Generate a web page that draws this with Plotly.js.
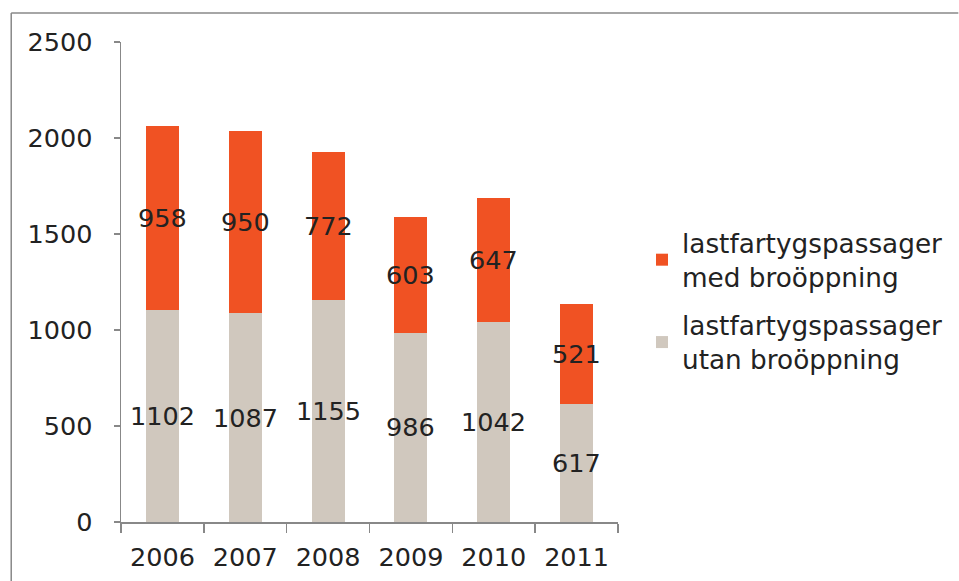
<!DOCTYPE html>
<html><head><meta charset="utf-8">
<script src="https://cdn.plot.ly/plotly-3.0.1.min.js"></script>
<style>body{margin:0;background:#fff}</style>
</head><body>
<div id="chart" style="width:959px;height:581px"></div>
<script>
const years = ["2006","2007","2008","2009","2010","2011"];
const utan = [1102,1087,1155,986,1042,617];
const med = [958,950,772,603,647,521];
const nameUtan = "lastfartygspassager<br>utan broöppning";
const nameMed = "lastfartygspassager<br>med broöppning";

const W=959,H=581,L=121,R=340,T=42,B=59;
const pw=W-L-R, ph=H-T-B;
const px = x => (x-L)/pw;
const py = y => (H-B-y)/ph;

const font = {family:"DejaVu Sans, Verdana, sans-serif", size:25.5, color:"#222"};
const legFont = {family:"DejaVu Sans, Verdana, sans-serif", size:26.3, color:"#222"};
const traces = [
  {type:"bar", x:years, y:utan, name:nameUtan, legendgroup:"u", legendrank:2, marker:{color:"#D0C8BE"}, width:0.4, hoverinfo:"y"},
  {type:"bar", x:years, y:med, name:nameMed, legendgroup:"m", legendrank:1, marker:{color:"#F05223"}, width:0.4, hoverinfo:"y"}
];
const annotations = [];
years.forEach((yr,i)=>{
  annotations.push({x:i, y:utan[i]/2, text:String(utan[i]), showarrow:false, font:font, xref:"x", yref:"y"});
  annotations.push({x:i, y:utan[i]+med[i]/2, text:String(med[i]), showarrow:false, font:font, xref:"x", yref:"y"});
});
const layout = {
  width:W, height:H, margin:{l:L,r:R,t:T,b:B},
  barmode:"stack", showlegend:true,
  font: font,
  paper_bgcolor:"#fff", plot_bgcolor:"#fff",
  xaxis:{type:"category", categoryarray:years, categoryorder:"array", showline:true, linecolor:"#888", linewidth:1.5,
    ticks:"outside", tickson:"boundaries", ticklen:9, tickcolor:"#888", tickwidth:1.5,
    tickfont:font, ticklabelstandoff:12, showgrid:false, zeroline:false},
  yaxis:{range:[0,2500], tickvals:[0,500,1000,1500,2000,2500], showline:true,
    linecolor:"#888", linewidth:1.5, ticks:"outside", ticklen:6, tickcolor:"#888", tickwidth:1.5,
    tickfont:font, ticklabelstandoff:16, showgrid:false, zeroline:false},
  legend:{x:px(642), y:py(301), xanchor:"left", yanchor:"middle", traceorder:"grouped",
    font:legFont, itemwidth:30, tracegroupgap:11, bgcolor:"rgba(0,0,0,0)"},
  annotations: annotations,
  shapes:[
    {type:"line", xref:"paper", yref:"paper", x0:px(11), x1:px(960), y0:py(13), y1:py(13), line:{color:"#888", width:1.5}},
    {type:"line", xref:"paper", yref:"paper", x0:px(11), x1:px(11), y0:py(13), y1:py(582), line:{color:"#888", width:1.5}}
  ]
};
Plotly.newPlot("chart", traces, layout, {displayModeBar:false, staticPlot:true});
</script>
</body></html>
